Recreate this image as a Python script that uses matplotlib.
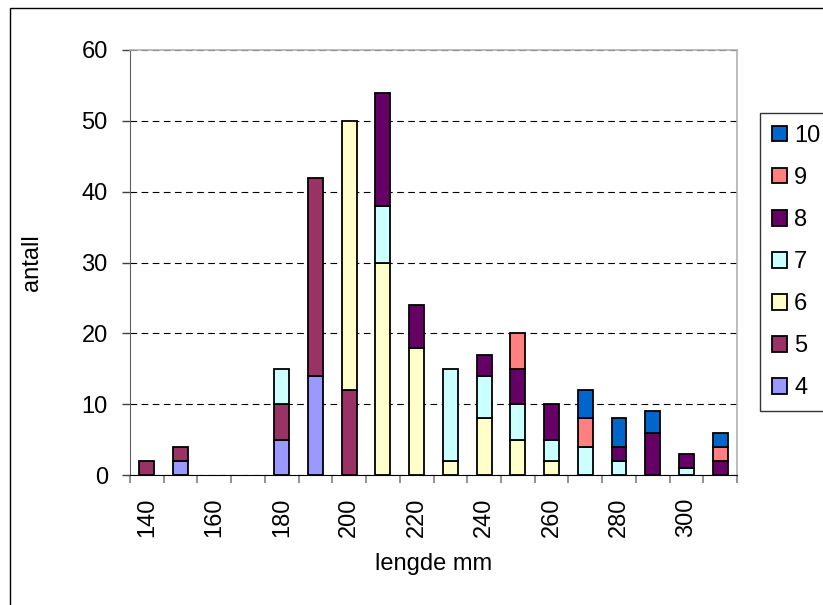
import numpy as np
import matplotlib.pyplot as plt
import matplotlib.patches as patches

plt.rcParams['font.family'] = ['Liberation Sans', 'DejaVu Sans']

# length classes (mm)
lengths = [140, 150, 160, 170, 180, 190, 200, 210, 220, 230,
           240, 250, 260, 270, 280, 290, 300, 310]

# counts per age group, stacked bottom -> top
age4 = [0, 2, 0, 0, 5, 14, 0, 0, 0, 0, 0, 0, 0, 0, 0, 0, 0, 0]
age5 = [2, 2, 0, 0, 5, 28, 12, 0, 0, 0, 0, 0, 0, 0, 0, 0, 0, 0]
age6 = [0, 0, 0, 0, 0, 0, 38, 30, 18, 2, 8, 5, 2, 0, 0, 0, 0, 0]
age7 = [0, 0, 0, 0, 5, 0, 0, 8, 0, 13, 6, 5, 3, 4, 2, 0, 1, 0]
age8 = [0, 0, 0, 0, 0, 0, 0, 16, 6, 0, 3, 5, 5, 0, 2, 6, 2, 2]
age9 = [0, 0, 0, 0, 0, 0, 0, 0, 0, 0, 0, 5, 0, 4, 0, 0, 0, 2]
age10 = [0, 0, 0, 0, 0, 0, 0, 0, 0, 0, 0, 0, 0, 4, 4, 3, 0, 2]

series = [('4', age4), ('5', age5), ('6', age6), ('7', age7),
          ('8', age8), ('9', age9), ('10', age10)]
colors = ['#9999FF', '#993366', '#FFFFCC', '#CCFFFF', '#660066', '#FF8080', '#0066CC']

fig = plt.figure(figsize=(8.23, 6.05), dpi=100)
ax = fig.add_axes([130 / 823, 1 - 475 / 605, (737 - 130) / 823, (475 - 50) / 605])

# outer chart frame (cut off at right/bottom like the original)
fig.add_artist(patches.Rectangle((10 / 823, -0.1), 1.2, 1.1 - 8 / 605,
                                 transform=fig.transFigure, fill=False,
                                 edgecolor='black', linewidth=1.0))

x = np.arange(len(lengths))
bottom = np.zeros(len(lengths))
handles = []
for (name, vals), c in zip(series, colors):
    vals = np.array(vals, dtype=float)
    keep = vals > 0  # Excel draws nothing for empty segments
    b = ax.bar(x[keep], vals[keep], bottom=bottom[keep], width=0.44, color=c,
               edgecolor='black', linewidth=1.3, zorder=3, label=name)
    handles.append(b)
    bottom += vals

ax.set_xlim(-0.5, len(lengths) - 0.5)
ax.set_ylim(0, 60)
ax.set_yticks(range(0, 61, 10))
ax.yaxis.grid(True, color='black', linestyle=(0, (6, 4)), linewidth=0.8, zorder=0)
ax.set_axisbelow(True)

# category axis: ticks between categories, label every other class
ax.set_xticks(np.arange(-0.5, len(lengths), 1.0))
ax.set_xticklabels([])
ax.set_xticks(x[::2], minor=True)
ax.set_xticklabels([str(v) for v in lengths[::2]], minor=True, rotation=90)
ax.tick_params(axis='x', which='major', length=6, color='#808080', width=1.2)
ax.tick_params(axis='x', which='minor', length=0, pad=16, labelsize=17)
ax.tick_params(axis='y', length=6, color='#404040', width=1, pad=10, labelsize=17)

for s in ['top', 'right']:
    ax.spines[s].set_color('#B0B0B0')
    ax.spines[s].set_linewidth(1.2)
ax.spines['left'].set_color('#606060')
ax.spines['bottom'].set_color('black')

ax.set_ylabel('antall', fontsize=17, labelpad=28)
ax.set_xlabel('lengde mm', fontsize=17, labelpad=12)

leg = fig.legend(handles[::-1], [n for n, _ in series][::-1],
                 loc='upper left', bbox_to_anchor=(760 / 823, 1 - 113 / 605),
                 fontsize=17, frameon=True, fancybox=False, edgecolor='black',
                 handlelength=0.65, handleheight=0.65, handletextpad=0.3,
                 labelspacing=0.85, borderpad=0.5, borderaxespad=0)
leg.get_frame().set_linewidth(1.0)

fig.savefig('out.png', dpi=100)
